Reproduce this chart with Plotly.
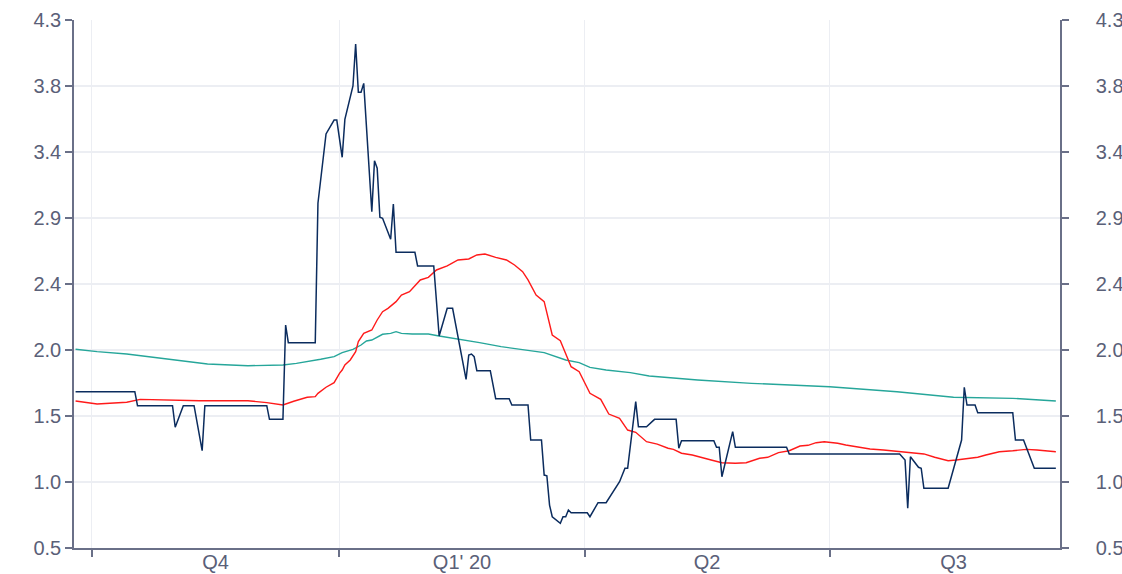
import plotly.graph_objects as go
import numpy as np

# ---- data ----
blue_dates = ["2019-09-25", "2019-10-17", "2019-10-18", "2019-10-31", "2019-11-01", "2019-11-04",
              "2019-11-08", "2019-11-11", "2019-11-12", "2019-12-05", "2019-12-06", "2019-12-11",
              "2019-12-12", "2019-12-13", "2019-12-23", "2019-12-24", "2019-12-27", "2019-12-30",
              "2019-12-31", "2020-01-02", "2020-01-03", "2020-01-06", "2020-01-07", "2020-01-08",
              "2020-01-09", "2020-01-10", "2020-01-13", "2020-01-14", "2020-01-15", "2020-01-16",
              "2020-01-17", "2020-01-20", "2020-01-21", "2020-01-22", "2020-01-29", "2020-01-30",
              "2020-02-05", "2020-02-07", "2020-02-10", "2020-02-12", "2020-02-17", "2020-02-18",
              "2020-02-19", "2020-02-20", "2020-02-21", "2020-02-26", "2020-02-28", "2020-03-04",
              "2020-03-05", "2020-03-11", "2020-03-12", "2020-03-16", "2020-03-17", "2020-03-18",
              "2020-03-19", "2020-03-20", "2020-03-23", "2020-03-24", "2020-03-25", "2020-03-26",
              "2020-03-27", "2020-04-02", "2020-04-03", "2020-04-06", "2020-04-09", "2020-04-14",
              "2020-04-16", "2020-04-17", "2020-04-20", "2020-04-21", "2020-04-24", "2020-04-27",
              "2020-05-05", "2020-05-06", "2020-05-07", "2020-05-19", "2020-05-20", "2020-05-21",
              "2020-05-22", "2020-05-26", "2020-05-27", "2020-06-15", "2020-06-16", "2020-07-27",
              "2020-07-29", "2020-07-30", "2020-07-31", "2020-08-03", "2020-08-04", "2020-08-05",
              "2020-08-14", "2020-08-17", "2020-08-19", "2020-08-20", "2020-08-21", "2020-08-24",
              "2020-08-25", "2020-09-07", "2020-09-08", "2020-09-11", "2020-09-15", "2020-09-23"]
blue_values = [1.625, 1.625, 1.524, 1.524, 1.369, 1.524,
               1.524, 1.200, 1.524, 1.524, 1.426, 1.426,
               2.105, 1.978, 1.978, 2.981, 3.480, 3.580,
               3.580, 3.312, 3.585, 3.825, 4.127, 3.780,
               3.780, 3.844, 2.920, 3.287, 3.233, 2.880,
               2.873, 2.722, 2.976, 2.628, 2.628, 2.530,
               2.530, 2.026, 2.225, 2.225, 1.714, 1.889,
               1.896, 1.877, 1.776, 1.776, 1.575, 1.575,
               1.529, 1.529, 1.277, 1.277, 1.025, 1.020,
               0.809, 0.725, 0.678, 0.725, 0.725, 0.773,
               0.754, 0.754, 0.725, 0.826, 0.826, 0.977,
               1.074, 1.074, 1.553, 1.373, 1.373, 1.426,
               1.426, 1.218, 1.272, 1.272, 1.225, 1.225,
               1.013, 1.337, 1.225, 1.225, 1.177, 1.177,
               1.133, 0.786, 1.157, 1.081, 1.074, 0.930,
               0.930, 1.133, 1.277, 1.657, 1.529, 1.529,
               1.474, 1.474, 1.277, 1.277, 1.074, 1.074]

red_dates = ["2019-09-25", "2019-10-03", "2019-10-14", "2019-10-19", "2019-11-10", "2019-11-28",
             "2019-12-05", "2019-12-11", "2019-12-15", "2019-12-20", "2019-12-23", "2019-12-24",
             "2019-12-27", "2019-12-30", "2020-01-01", "2020-01-02", "2020-01-03", "2020-01-05",
             "2020-01-07", "2020-01-08", "2020-01-10", "2020-01-13", "2020-01-15", "2020-01-17",
             "2020-01-19", "2020-01-22", "2020-01-24", "2020-01-27", "2020-01-31", "2020-02-03",
             "2020-02-06", "2020-02-10", "2020-02-14", "2020-02-18", "2020-02-21", "2020-02-24",
             "2020-02-28", "2020-03-03", "2020-03-06", "2020-03-09", "2020-03-11", "2020-03-14",
             "2020-03-17", "2020-03-20", "2020-03-23", "2020-03-27", "2020-03-30", "2020-04-03",
             "2020-04-07", "2020-04-10", "2020-04-14", "2020-04-17", "2020-04-20", "2020-04-24",
             "2020-04-28", "2020-05-02", "2020-05-04", "2020-05-07", "2020-05-11", "2020-05-15",
             "2020-05-18", "2020-05-22", "2020-05-27", "2020-05-31", "2020-06-05", "2020-06-08",
             "2020-06-12", "2020-06-16", "2020-06-20", "2020-06-23", "2020-06-26", "2020-06-29",
             "2020-07-04", "2020-07-07", "2020-07-11", "2020-07-16", "2020-07-21", "2020-07-27",
             "2020-07-31", "2020-08-05", "2020-08-09", "2020-08-14", "2020-08-17", "2020-08-21",
             "2020-08-25", "2020-08-28", "2020-09-02", "2020-09-07", "2020-09-12", "2020-09-16",
             "2020-09-23"]
red_values = [1.558, 1.536, 1.549, 1.570, 1.560, 1.560,
              1.546, 1.529, 1.556, 1.585, 1.589, 1.613,
              1.657, 1.690, 1.757, 1.781, 1.817, 1.853,
              1.913, 1.985, 2.045, 2.069, 2.141, 2.201,
              2.225, 2.273, 2.321, 2.345, 2.429, 2.448,
              2.501, 2.530, 2.573, 2.580, 2.609, 2.616,
              2.592, 2.573, 2.537, 2.489, 2.429, 2.321,
              2.273, 2.033, 1.992, 1.805, 1.769, 1.613,
              1.570, 1.464, 1.433, 1.349, 1.333, 1.265,
              1.248, 1.218, 1.210, 1.182, 1.169, 1.146,
              1.133, 1.114, 1.110, 1.114, 1.146, 1.153,
              1.186, 1.200, 1.234, 1.239, 1.258, 1.265,
              1.254, 1.241, 1.229, 1.213, 1.205, 1.193,
              1.182, 1.177, 1.153, 1.128, 1.133, 1.141,
              1.153, 1.169, 1.193, 1.200, 1.210, 1.205,
              1.193]

teal_dates = ["2019-09-25", "2019-10-03", "2019-10-14", "2019-10-20", "2019-10-28", "2019-11-03",
              "2019-11-13", "2019-11-28", "2019-12-11", "2019-12-16", "2019-12-22", "2019-12-25",
              "2019-12-30", "2020-01-02", "2020-01-06", "2020-01-09", "2020-01-11", "2020-01-13",
              "2020-01-17", "2020-01-20", "2020-01-22", "2020-01-24", "2020-01-28", "2020-02-03",
              "2020-02-07", "2020-02-11", "2020-02-15", "2020-02-22", "2020-03-01", "2020-03-11",
              "2020-03-17", "2020-03-25", "2020-03-30", "2020-04-03", "2020-04-09", "2020-04-18",
              "2020-04-25", "2020-05-13", "2020-06-02", "2020-07-01", "2020-07-26", "2020-08-16",
              "2020-09-07", "2020-09-23"]
teal_values = [1.930, 1.913, 1.896, 1.882, 1.865, 1.846,
               1.824, 1.812, 1.817, 1.829, 1.846, 1.858,
               1.877, 1.906, 1.930, 1.961, 1.990, 1.997,
               2.038, 2.045, 2.057, 2.045, 2.040, 2.040,
               2.026, 2.014, 2.002, 1.978, 1.949, 1.925,
               1.906, 1.853, 1.834, 1.800, 1.781, 1.762,
               1.738, 1.709, 1.685, 1.661, 1.625, 1.585,
               1.577, 1.558]

y_tick_labels = ["0.5", "1.0", "1.5", "2.0", "2.4", "2.9", "3.4", "3.8", "4.3"]
quarter_starts = ["2019-10-01", "2020-01-01", "2020-04-01", "2020-07-01"]
quarter_mids = ["2019-11-16", "2020-02-15 12:00", "2020-05-16 12:00", "2020-08-16"]
quarter_labels = ["Q4", "Q1' 20", "Q2", "Q3"]

# ---- styling ----
TEXT = "#5a6078"
LINE = "#6a7088"
GRID = "#eceef3"
FONT = "Liberation Sans, Arial, sans-serif"
FS = 20
y_min, y_max = 0.5, 4.3
y_ticks = list(np.linspace(y_min, y_max, len(y_tick_labels)))

fig = go.Figure()
fig.add_trace(go.Scatter(x=teal_dates, y=teal_values, mode="lines",
                         line=dict(color="#26a69a", width=1.4), hoverinfo="skip"))
fig.add_trace(go.Scatter(x=red_dates, y=red_values, mode="lines",
                         line=dict(color="#ff1a1a", width=1.4), hoverinfo="skip"))
fig.add_trace(go.Scatter(x=blue_dates, y=blue_values, mode="lines",
                         line=dict(color="#0b2c5e", width=1.5), hoverinfo="skip"))
# empty trace so the mirrored right-hand axis is drawn
fig.add_trace(go.Scatter(x=[], y=[], yaxis="y2", mode="lines", hoverinfo="skip"))

fig.update_layout(
    template="none",
    width=1122, height=574,
    margin=dict(l=74, r=62, t=20, b=26, autoexpand=False),
    paper_bgcolor="white", plot_bgcolor="white",
    showlegend=False,
    font=dict(family=FONT, size=FS, color=TEXT),
    xaxis=dict(
        type="date", automargin=False,
        range=["2019-09-24 10:00", "2020-09-24 13:00"],
        tickmode="array", tickvals=quarter_mids, ticktext=quarter_labels,
        ticks="", showgrid=False, showline=True, linecolor=LINE, linewidth=1.5,
        zeroline=False, tickfont=dict(size=FS, color=TEXT), ticklabelstandoff=-5,
        minor=dict(tickmode="array", tickvals=quarter_starts, ticks="outside",
                   ticklen=7, tickcolor=LINE, tickwidth=1.5,
                   showgrid=True, gridcolor=GRID, gridwidth=1),
    ),
    yaxis=dict(
        automargin=False,
        range=[y_min, y_max], tickmode="array", tickvals=y_ticks, ticktext=y_tick_labels,
        ticks="outside", ticklen=7, tickcolor=LINE, tickwidth=1.5,
        showline=True, linecolor=LINE, linewidth=1.5,
        showgrid=True, gridcolor=GRID, gridwidth=1.5, zeroline=False,
        tickfont=dict(size=FS, color=TEXT),
    ),
    yaxis2=dict(
        overlaying="y", side="right", anchor="x", automargin=False,
        range=[y_min, y_max], tickmode="array", tickvals=y_ticks, ticktext=y_tick_labels,
        ticks="outside", ticklen=7, tickcolor=LINE, tickwidth=1.5,
        showline=True, linecolor=LINE, linewidth=1.5,
        showgrid=False, zeroline=False, ticklabelstandoff=23,
        tickfont=dict(size=FS, color=TEXT),
    ),
)

fig.write_html("out.html", config={"displayModeBar": False},
               post_script="document.body.style.margin='0';document.body.style.overflow='hidden';")
